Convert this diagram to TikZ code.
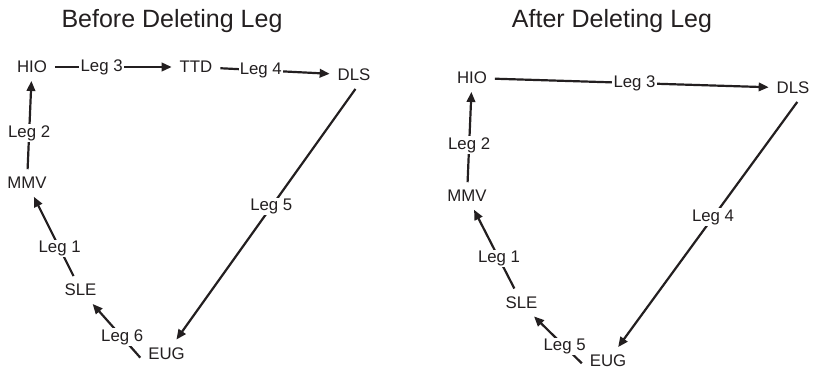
\documentclass[tikz,border=0pt]{standalone}
\usepackage{fontspec}
\setmainfont{Liberation Sans}
\usetikzlibrary{arrows.meta}
\definecolor{legink}{RGB}{35,31,32}
\tikzset{
 leg airport/.style={inner sep=8pt,outer sep=0pt,text=legink,
                     font=\fontsize{16.8}{20}\selectfont},
 leg edge/.style={line width=2.2pt,draw=legink,
                  -{Triangle[length=10pt,width=8.5pt]}},
 leg label/.style={fill=white,inner sep=1.2pt,text=legink,
                   font=\fontsize{16.8}{20}\selectfont},
 leg title/.style={anchor=base,text=legink,font=\fontsize{25}{30}\selectfont}
}

\begin{document}
\begin{tikzpicture}[x=10pt,y=-10pt]
 \useasboundingbox (0,0) rectangle (81.4,36.9);

 % before deleting
 \node[leg title] (titleB) at (17.2,2.8) {Before Deleting Leg};
 \node[leg airport] (hioB) at (3.2,6.7) {HIO};
 \node[leg airport] (ttdB) at (19.6,6.7) {TTD};
 \node[leg airport] (dlsB) at (35.4,7.5) {DLS};
 \node[leg airport] (mmvB) at (2.7,18.3) {MMV};
 \node[leg airport] (sleB) at (8.05,29.0) {SLE};
 \node[leg airport] (eugB) at (16.65,35.35) {EUG};

 \draw[leg edge] (sleB)--node[leg label,pos=.35] {Leg 1}(mmvB);
 \draw[leg edge] (mmvB)--node[leg label,pos=.41] {Leg 2}(hioB);
 \draw[leg edge] (hioB)--node[leg label,pos=.40] {Leg 3}(ttdB);
 \draw[leg edge] (ttdB)--node[leg label,pos=.37] {Leg 4}(dlsB);
 \draw[leg edge] (dlsB.-84)--node[leg label,pos=.47] {Leg 5}(eugB);
 \draw[leg edge] (eugB.189)--node[leg label,pos=.38] {Leg 6}(sleB.-49);

 % after deleting
 \node[leg title] (titleA) at (61.2,2.8) {After Deleting Leg};
 \node[leg airport] (hioA) at (47.2,7.8) {HIO};
 \node[leg airport] (dlsA) at (79.3,8.8) {DLS};
 \node[leg airport] (mmvA) at (46.7,19.6) {MMV};
 \node[leg airport] (sleA) at (52.15,30.25) {SLE};
 \node[leg airport] (eugA) at (60.8,36.1) {EUG};

 \draw[leg edge] (sleA)--node[leg label,pos=.38] {Leg 1}(mmvA);
 \draw[leg edge] (mmvA)--node[leg label,pos=.41] {Leg 2}(hioA);
 \draw[leg edge] (hioA)--node[leg label,pos=.51] {Leg 3}(dlsA);
 \draw[leg edge] (dlsA.-73)--node[leg label,pos=.47] {Leg 4}(eugA);
 \draw[leg edge] (eugA.185)--node[leg label,pos=.36] {Leg 5}(sleA.-48);
\end{tikzpicture}
\end{document}
